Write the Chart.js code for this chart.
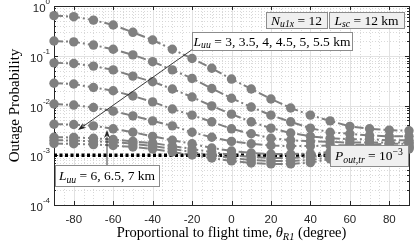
<!DOCTYPE html>
<html>
<head>
<meta charset="utf-8">
<script src="https://cdn.jsdelivr.net/npm/chart.js@4.4.0/dist/chart.umd.min.js"></script>
<style>
html, body { margin: 0; padding: 0; background: #fff; }
</style>
</head>
<body>
<canvas id="outage-chart" width="415" height="243"></canvas>
<script>
// proportional flight time (degree)
var theta = [-90, -80, -70, -60, -50, -40, -30, -20, -10, 0, 10, 20, 30, 40, 50, 60, 70, 80, 90];

// outage probability, one array per L_uu (km)
var luu3 = [0.64, 0.61, 0.52, 0.415, 0.296, 0.207, 0.135, 0.088, 0.056, 0.034, 0.0215, 0.0135, 0.0089, 0.0064, 0.0049, 0.0038, 0.0034, 0.0032, 0.0031];
var luu35 = [0.198, 0.19, 0.164, 0.135, 0.104, 0.076, 0.052, 0.035, 0.022, 0.014, 0.0093, 0.0064, 0.0047, 0.0035, 0.0029, 0.0027, 0.0025, 0.0024, 0.0024];
var luu4 = [0.072, 0.07, 0.062, 0.052, 0.039, 0.03, 0.0215, 0.0148, 0.0098, 0.0067, 0.0047, 0.0035, 0.0028, 0.0024, 0.0022, 0.0021, 0.0021, 0.002, 0.002];
var luu45 = [0.028, 0.027, 0.023, 0.0198, 0.0155, 0.0118, 0.0085, 0.0064, 0.0047, 0.0034, 0.0027, 0.0022, 0.002, 0.0019, 0.00185, 0.0018, 0.0018, 0.0018, 0.0018];
var luu5 = [0.0107, 0.0102, 0.0091, 0.0077, 0.0062, 0.0049, 0.0039, 0.0029, 0.0023, 0.0019, 0.0017, 0.00157, 0.00153, 0.00153, 0.00157, 0.0016, 0.00164, 0.0017, 0.0017];
var luu55 = [0.0042, 0.00415, 0.0039, 0.0034, 0.0029, 0.0024, 0.002, 0.0017, 0.0014, 0.00122, 0.00111, 0.00106, 0.00106, 0.00108, 0.00116, 0.00128, 0.0014, 0.00147, 0.00153];
var luu6 = [0.0023, 0.00228, 0.0022, 0.00207, 0.0019, 0.00176, 0.00153, 0.00134, 0.00116, 0.00101, 0.00092, 0.00088, 0.00088, 0.00092, 0.00101, 0.00116, 0.00128, 0.0014, 0.00147];
var luu65 = [0.002, 0.00198, 0.0019, 0.00185, 0.0017, 0.00153, 0.00134, 0.00116, 0.00101, 0.00088, 0.0008, 0.00077, 0.00077, 0.0008, 0.00092, 0.00106, 0.00122, 0.00134, 0.0014];
var luu7 = [0.00172, 0.0017, 0.00164, 0.00157, 0.00147, 0.00134, 0.00116, 0.00101, 0.00088, 0.00077, 0.0007, 0.00067, 0.00067, 0.00071, 0.00084, 0.00101, 0.00116, 0.00128, 0.00134];

// outage threshold P_out,tr
var thresholdX = [-90, 90];
var thresholdY = [1e-3, 1e-3];

// axis ticks
var xTicks = [-80, -60, -40, -20, 0, 20, 40, 60, 80];
var yTicks = [1e-4, 1e-3, 1e-2, 1e-1, 1];
var yTickExp = ['-4', '-3', '-2', '-1', '0'];

var serif = "'Liberation Serif', serif";
var sans = "'Liberation Sans', Arial, sans-serif";
var axisColor = '#262626';

function pts(xs, ys) {
	var out = [];
	for (var i = 0; i < xs.length; i++) out.push({x: xs[i], y: ys[i]});
	return out;
}

// draw text made of pieces: r = roman, i = italic, si = italic subscript, sup = superscript
function mathText(ctx, parts, x, y, size, measureOnly) {
	var cx = x;
	for (var i = 0; i < parts.length; i++) {
		var t = parts[i][0], s = parts[i][1];
		var fs = size, dy = 0, st = '';
		if (s === 'i') st = 'italic ';
		if (s === 'si') { st = 'italic '; fs = size * 0.72; dy = size * 0.22; }
		if (s === 'sup') { fs = size * 0.72; dy = -size * 0.4; }
		ctx.font = st + fs + 'px ' + serif;
		if (!measureOnly) ctx.fillText(t, cx, y + dy);
		cx += ctx.measureText(t).width;
	}
	return cx - x;
}

function arrow(ctx, x1, y1, x2, y2) {
	var a = Math.atan2(y2 - y1, x2 - x1), L = 8, W = 3;
	ctx.beginPath();
	ctx.moveTo(x1, y1);
	ctx.lineTo(x2 - Math.cos(a) * L * 0.8, y2 - Math.sin(a) * L * 0.8);
	ctx.stroke();
	ctx.beginPath();
	ctx.moveTo(x2, y2);
	ctx.lineTo(x2 - Math.cos(a) * L + Math.sin(a) * W, y2 - Math.sin(a) * L - Math.cos(a) * W);
	ctx.lineTo(x2 - Math.cos(a) * L * 0.7, y2 - Math.sin(a) * L * 0.7);
	ctx.lineTo(x2 - Math.cos(a) * L - Math.sin(a) * W, y2 - Math.sin(a) * L + Math.cos(a) * W);
	ctx.closePath();
	ctx.fill();
}

var boxes = [
	{x: 266, y: 12, w: 61, h: 16, fill: '#f0f0f0', parts: [['N', 'i'], ['u1x', 'si'], [' = 12', 'r']]},
	{x: 329, y: 12, w: 75, h: 16, fill: '#f0f0f0', parts: [['L', 'i'], ['sc', 'si'], [' = 12 km', 'r']]},
	{x: 192, y: 32, w: 160, h: 18, fill: '#ffffff', parts: [['L', 'i'], ['uu', 'si'], [' = 3, 3.5, 4, 4.5, 5, 5.5 km', 'r']]},
	{x: 55, y: 165, w: 104, h: 21, fill: '#ffffff', parts: [['L', 'i'], ['uu', 'si'], [' = 6, 6.5, 7 km', 'r']]},
	{x: 330, y: 145, w: 78, h: 21, fill: '#f0f0f0', parts: [['P', 'i'], ['out,tr', 'si'], [' = 10', 'r'], ['\u22123', 'sup']]}
];

var matlabLook = {
	id: 'matlabLook',
	beforeDatasetsDraw: function(chart) {
		var ctx = chart.ctx, a = chart.chartArea, xs = chart.scales.x, ys = chart.scales.y;
		ctx.save();
		// minor grid
		ctx.strokeStyle = '#cfcfcf';
		ctx.lineWidth = 0.8;
		ctx.setLineDash([1, 2]);
		ctx.beginPath();
		for (var v = -85; v < 90; v += 5) {
			if (v % 20 === 0) continue;
			var px = Math.round(xs.getPixelForValue(v)) + 0.5;
			ctx.moveTo(px, a.top); ctx.lineTo(px, a.bottom);
		}
		for (var d = -4; d < 0; d++) {
			for (var k = 2; k < 10; k++) {
				var py = Math.round(ys.getPixelForValue(k * Math.pow(10, d))) + 0.5;
				ctx.moveTo(a.left, py); ctx.lineTo(a.right, py);
			}
		}
		ctx.stroke();
		// major grid
		ctx.setLineDash([]);
		ctx.strokeStyle = '#e2e2e2';
		ctx.lineWidth = 1;
		ctx.beginPath();
		xTicks.forEach(function(v) {
			var px = Math.round(xs.getPixelForValue(v)) + 0.5;
			ctx.moveTo(px, a.top); ctx.lineTo(px, a.bottom);
		});
		yTicks.forEach(function(v) {
			var py = Math.round(ys.getPixelForValue(v)) + 0.5;
			ctx.moveTo(a.left, py); ctx.lineTo(a.right, py);
		});
		ctx.stroke();
		// frame and inward ticks
		ctx.strokeStyle = axisColor;
		ctx.lineWidth = 1;
		ctx.strokeRect(Math.round(a.left) + 0.5, Math.round(a.top) + 0.5, Math.round(a.right - a.left), Math.round(a.bottom - a.top));
		ctx.beginPath();
		xTicks.forEach(function(v) {
			var px = Math.round(xs.getPixelForValue(v)) + 0.5;
			ctx.moveTo(px, a.bottom); ctx.lineTo(px, a.bottom - 4);
			ctx.moveTo(px, a.top); ctx.lineTo(px, a.top + 4);
		});
		yTicks.forEach(function(v) {
			var py = Math.round(ys.getPixelForValue(v)) + 0.5;
			ctx.moveTo(a.left, py); ctx.lineTo(a.left + 4, py);
			ctx.moveTo(a.right, py); ctx.lineTo(a.right - 4, py);
		});
		for (var d2 = -4; d2 < 0; d2++) {
			for (var k2 = 2; k2 < 10; k2++) {
				var py2 = Math.round(ys.getPixelForValue(k2 * Math.pow(10, d2))) + 0.5;
				ctx.moveTo(a.left, py2); ctx.lineTo(a.left + 2, py2);
				ctx.moveTo(a.right, py2); ctx.lineTo(a.right - 2, py2);
			}
		}
		ctx.stroke();
		ctx.restore();
	},
	afterDraw: function(chart) {
		var ctx = chart.ctx, a = chart.chartArea, ys = chart.scales.y;
		ctx.save();
		// y tick labels 10^n
		ctx.fillStyle = axisColor;
		ctx.textBaseline = 'middle';
		ctx.textAlign = 'left';
		yTicks.forEach(function(v, i) {
			var py = ys.getPixelForValue(v);
			ctx.font = '8px ' + sans;
			var ew = ctx.measureText(yTickExp[i]).width;
			ctx.font = '11.5px ' + sans;
			var bw = ctx.measureText('10').width;
			var right = a.left - 4;
			ctx.fillText('10', right - ew - bw, py + 3);
			ctx.font = '8px ' + sans;
			ctx.fillText(yTickExp[i], right - ew, py - 4);
		});
		// axis titles
		ctx.fillStyle = '#000';
		ctx.textBaseline = 'alphabetic';
		var xt = [['Proportional to flight time, ', 'r'], ['\u03b8', 'i'], ['R1', 'si'], [' (degree)', 'r']];
		var w = mathText(ctx, xt, 0, 0, 14.5, true);
		mathText(ctx, xt, (a.left + a.right) / 2 - w / 2, 237, 14.5);
		ctx.save();
		ctx.translate(15, (a.top + a.bottom) / 2);
		ctx.rotate(-Math.PI / 2);
		ctx.textAlign = 'center';
		ctx.textBaseline = 'middle';
		ctx.font = '15px ' + serif;
		ctx.fillText('Outage Probability', 0, 0);
		ctx.restore();
		// arrows
		ctx.strokeStyle = axisColor;
		ctx.fillStyle = axisColor;
		ctx.lineWidth = 0.9;
		arrow(ctx, 193, 49, 78, 130);
		arrow(ctx, 107, 165, 107, 130);
		// text boxes
		boxes.forEach(function(b) {
			ctx.fillStyle = b.fill;
			ctx.fillRect(b.x, b.y, b.w, b.h);
			ctx.strokeStyle = '#8c8c8c';
			ctx.lineWidth = 1;
			ctx.strokeRect(b.x + 0.5, b.y + 0.5, b.w, b.h);
			ctx.fillStyle = '#000';
			ctx.textAlign = 'left';
			var tw = mathText(ctx, b.parts, 0, 0, 13.5, true);
			mathText(ctx, b.parts, b.x + (b.w - tw) / 2, b.y + b.h / 2 + 4.5, 13.5);
		});
		ctx.restore();
	}
};

var series = [luu3, luu35, luu4, luu45, luu5, luu55, luu6, luu65, luu7];
var datasets = series.map(function(s) {
	return {
		data: pts(theta, s),
		borderColor: '#808080',
		backgroundColor: '#808080',
		borderWidth: 2,
		borderDash: [9, 3, 2, 3],
		pointRadius: 4.7,
		pointBorderWidth: 0,
		pointBackgroundColor: '#808080',
		clip: false
	};
});
datasets.push({
	data: pts(thresholdX, thresholdY),
	borderColor: '#000',
	borderWidth: 3.5,
	borderDash: [3, 2.5],
	pointRadius: 0
});

new Chart(document.getElementById('outage-chart').getContext('2d'), {
	type: 'line',
	data: {datasets: datasets},
	options: {
		responsive: false,
		animation: false,
		devicePixelRatio: 1,
		layout: {padding: {top: 6, right: 6, left: 0, bottom: 0}},
		plugins: {legend: {display: false}, tooltip: {enabled: false}},
		scales: {
			x: {
				type: 'linear',
				min: -90,
				max: 90,
				afterBuildTicks: function(scale) {
					scale.ticks = xTicks.map(function(v) { return {value: v}; });
				},
				afterFit: function(scale) { scale.height = 38; },
				grid: {display: false, drawTicks: false},
				border: {display: false},
				ticks: {
					color: axisColor,
					font: {family: sans, size: 11.5},
					padding: 8,
					maxRotation: 0,
					callback: function(v) { return String(v); }
				}
			},
			y: {
				type: 'logarithmic',
				min: 1e-4,
				max: 1,
				afterBuildTicks: function(scale) {
					scale.ticks = yTicks.map(function(v) { return {value: v}; });
				},
				afterFit: function(scale) { scale.width = 54; },
				grid: {display: false, drawTicks: false},
				border: {display: false},
				ticks: {display: false}
			}
		}
	},
	plugins: [matlabLook]
});
</script>
</body>
</html>
